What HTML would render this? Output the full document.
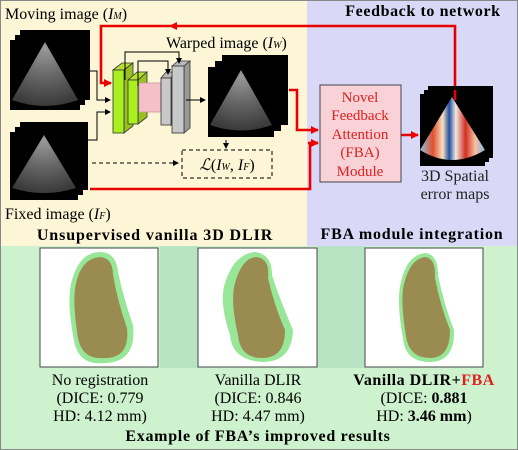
<!DOCTYPE html>
<html><head><meta charset="utf-8"><style>
html,body{margin:0;padding:0;background:#fff}
svg{display:block;font-family:"Liberation Serif",serif}
</style></head><body>
<svg width="518" height="450" viewBox="0 0 518 450">
<defs>
<radialGradient id="us" cx="0.5" cy="0.1" r="0.9">
<stop offset="0" stop-color="#999"/><stop offset="0.5" stop-color="#666"/><stop offset="1" stop-color="#3a3a3a"/></radialGradient>
<linearGradient id="err" x1="0" x2="1" y1="0" y2="0">
<stop offset="0" stop-color="#8cc0e0"/><stop offset="0.2" stop-color="#e05030"/><stop offset="0.35" stop-color="#f8e0c0"/><stop offset="0.45" stop-color="#2050a0"/><stop offset="0.55" stop-color="#f0e8e0"/><stop offset="0.7" stop-color="#d03020"/><stop offset="0.85" stop-color="#f8c0a0"/><stop offset="1" stop-color="#80b8e0"/></linearGradient>
<marker id="ar" markerWidth="8" markerHeight="8" refX="7" refY="4" orient="auto" markerUnits="userSpaceOnUse"><path d="M0,0 L8,4 L0,8 z" fill="#e00"/></marker>
<marker id="ak" markerWidth="6" markerHeight="6" refX="5" refY="3" orient="auto" markerUnits="userSpaceOnUse"><path d="M0,0 L6,3 L0,6 z" fill="#000"/></marker>
</defs>
<rect x="0" y="0" width="307" height="246" fill="#fcf5d6"/>
<rect x="307" y="0" width="211" height="246" fill="#d9d9f7"/>
<rect x="0" y="246" width="518" height="204" fill="#cdf2cd"/>
<rect x="160" y="246" width="38" height="122" fill="#b9e4c4"/>
<rect x="317" y="246" width="48" height="122" fill="#b9e4c4"/>

<g>
<rect x="20" y="30" width="70" height="70" fill="#000"/><rect x="15" y="35" width="70" height="70" fill="#000"/><rect x="10" y="40" width="70" height="70" fill="#000"/>
<path d="M45,42 L78,100 Q45,112 12,100 Z" fill="url(#us)"/></g>
<g>
<rect x="20" y="122" width="68" height="68" fill="#000"/><rect x="15" y="127" width="68" height="68" fill="#000"/><rect x="10" y="132" width="68" height="68" fill="#000"/>
<path d="M44,135 L76,188 Q44,198 12,188 Z" fill="url(#us)"/></g>
<g>
<rect x="222" y="55" width="66" height="70" fill="#000"/><rect x="215" y="61" width="66" height="70" fill="#000"/><rect x="208" y="67" width="66" height="70" fill="#000"/>
<path d="M241,70 L272,125 Q241,136 210,125 Z" fill="url(#us)"/></g>
<text x="5" y="19" font-size="16">Moving image (<tspan font-style="italic">I</tspan><tspan font-size="10" font-style="italic">M</tspan>)</text>
<text x="166" y="48" font-size="16">Warped image (<tspan font-style="italic">I</tspan><tspan font-size="10" font-style="italic">W</tspan>)</text>
<text x="5" y="219" font-size="16">Fixed image (<tspan font-style="italic">I</tspan><tspan font-size="10" font-style="italic">F</tspan>)</text>
<text x="155" y="240" font-size="16" font-weight="bold" letter-spacing="0.9" text-anchor="middle">Unsupervised vanilla 3D DLIR</text>

<g stroke="#333" stroke-width="0.8">
<path d="M113,70 L122,63 L133,63 L124,70 Z" fill="#b8e030"/><path d="M124,70 L133,63 L133,126 L124,133 Z" fill="#98c020"/><rect x="113" y="70" width="11" height="63" fill="#aaf020"/>
<path d="M128,80 L137,72 L147,72 L138,80 Z" fill="#b8e030"/><path d="M138,80 L147,72 L147,117 L138,124 Z" fill="#98c020"/><rect x="128" y="80" width="10" height="44" fill="#aaf020"/>
<rect x="139" y="83" width="22" height="29" fill="#f6c0c8" stroke="#c99"/>
<path d="M161,78 L166,72 L175,72 L171,78 Z" fill="#bbb"/><path d="M171,78 L175,72 L175,119 L171,125 Z" fill="#999"/><rect x="161" y="78" width="10" height="47" fill="#c8c8c8"/>
<path d="M172,66 L178,61 L190,61 L184,66 Z" fill="#bbb"/><path d="M184,66 L190,61 L190,128 L184,133 Z" fill="#999"/><rect x="172" y="66" width="12" height="67" fill="#c8c8c8"/>
</g>
<g fill="none" stroke="#000" stroke-width="1">
<path d="M90,71 H97 V100 H110" marker-end="url(#ak)"/>
<path d="M80,140 H97 V112 H110" marker-end="url(#ak)"/>
<path d="M125,80 V52 H179 V63" marker-end="url(#ak)"/>
<path d="M138,86 V61 H168 V74" marker-end="url(#ak)"/>
<path d="M186,100 H205" marker-end="url(#ak)"/>
<path d="M226,140 V148" stroke-dasharray="3,2" marker-end="url(#ak)"/>
<path d="M92,163 H178" stroke-dasharray="4,3" marker-end="url(#ak)"/>
</g>
<rect x="182" y="150" width="90" height="28" fill="none" stroke="#000" stroke-dasharray="4,3"/>
<text x="227" y="170" font-size="16" text-anchor="middle"><tspan font-style="italic">ℒ</tspan>(<tspan font-style="italic">I</tspan><tspan font-size="10" font-style="italic">W</tspan>, <tspan font-style="italic">I</tspan><tspan font-size="10" font-style="italic">F</tspan>)</text>

<g fill="none" stroke="#e80000" stroke-width="2.6">
<path d="M455,95 V26 H170" marker-end="url(#ar)"/>
<path d="M170,26 H101 V83 H111" marker-end="url(#ar)"/>
<path d="M289,90 H297 V130 H318" marker-end="url(#ar)"/>
<path d="M318,143 H310 V189 H90"/>
<path d="M308,143 H318" marker-end="url(#ar)"/>
<path d="M401,135 H418" marker-end="url(#ar)"/>
</g>
<rect x="320" y="85" width="81" height="97" fill="#f8d2d6" stroke="#444"/>
<g font-size="15" fill="#e02020" text-anchor="middle">
<text x="360" y="102">Novel</text><text x="360" y="120">Feedback</text><text x="360" y="139">Attention</text><text x="360" y="157">(FBA)</text><text x="360" y="176">Module</text></g>
<g>
<rect x="428" y="86" width="65" height="72" fill="#000"/><rect x="424" y="90" width="65" height="72" fill="#000"/><rect x="420" y="94" width="65" height="72" fill="#000"/>
<path d="M452,97 L485,150 Q452,170 420,150 Z" fill="url(#err)"/></g>
<path d="M455,100 V90" stroke="#e80000" stroke-width="2.6"/>
<text x="455" y="181" font-size="16" text-anchor="middle" fill="#222">3D Spatial</text>
<text x="455" y="199" font-size="16" text-anchor="middle" fill="#222">error maps</text>
<text x="423" y="16" font-size="16" font-weight="bold" letter-spacing="0.6" text-anchor="middle">Feedback to network</text>
<text x="412" y="239" font-size="16" font-weight="bold" letter-spacing="0.8" text-anchor="middle">FBA module integration</text>

<g>
<rect x="40" y="248" width="118" height="119" fill="#fff" stroke="#444"/>
<path d="M100,252 Q116,252 118,272 Q124,300 133,325 Q137,362 105,363 Q78,366 74,340 Q66,300 72,280 Q80,252 100,252 Z" fill="#7ee07e" opacity="0.8"/>
<path d="M100,257 Q113,258 113,275 Q118,303 127,328 Q130,358 105,358 Q82,360 78,338 Q72,300 76,283 Q82,258 100,257 Z" fill="#9a8c50"/>
<text x="100" y="385" font-size="16" text-anchor="middle">No registration</text>
<text x="100" y="403" font-size="16" text-anchor="middle">(DICE: 0.779</text>
<text x="100" y="421" font-size="16" text-anchor="middle">HD: 4.12 mm)</text></g>
<g>
<rect x="198" y="248" width="119" height="119" fill="#fff" stroke="#444"/>
<path d="M255,252 Q272,254 272,275 Q280,300 293,330 Q292,362 262,362 Q232,360 230,335 Q218,300 226,280 Q235,254 255,252 Z" fill="#7ee07e" opacity="0.8"/>
<path d="M256,257 Q270,258 268,278 Q274,305 285,330 Q285,358 262,358 Q240,358 238,335 Q230,300 235,283 Q242,258 256,257 Z" fill="#9a8c50"/>
<text x="258" y="385" font-size="16" text-anchor="middle">Vanilla DLIR</text>
<text x="258" y="403" font-size="16" text-anchor="middle">(DICE: 0.846</text>
<text x="258" y="421" font-size="16" text-anchor="middle">HD: 4.47 mm)</text></g>
<g>
<rect x="365" y="248" width="118" height="119" fill="#fff" stroke="#444"/>
<path d="M425,253 Q438,254 438,275 Q444,305 454,330 Q455,362 430,362 Q405,362 403,338 Q396,300 401,282 Q407,255 425,253 Z" fill="#7ee07e" opacity="0.8"/>
<path d="M425,257 Q436,258 435,278 Q440,305 450,330 Q450,358 430,358 Q409,358 406,336 Q400,300 404,284 Q410,259 425,257 Z" fill="#9a8c50"/>
<text x="424" y="385" font-size="16" text-anchor="middle" font-weight="bold" letter-spacing="0.5">Vanilla DLIR+<tspan fill="#e02020">FBA</tspan></text>
<text x="424" y="403" font-size="16" text-anchor="middle">(DICE: <tspan font-weight="bold">0.881</tspan></text>
<text x="424" y="421" font-size="16" text-anchor="middle">HD: <tspan font-weight="bold">3.46 mm</tspan>)</text></g>
<text x="258" y="441" font-size="16" font-weight="bold" letter-spacing="0.7" text-anchor="middle">Example of FBA’s improved results</text>
<rect x="0.5" y="0.5" width="517" height="449" fill="none" stroke="#888"/>
</svg>
</body></html>
